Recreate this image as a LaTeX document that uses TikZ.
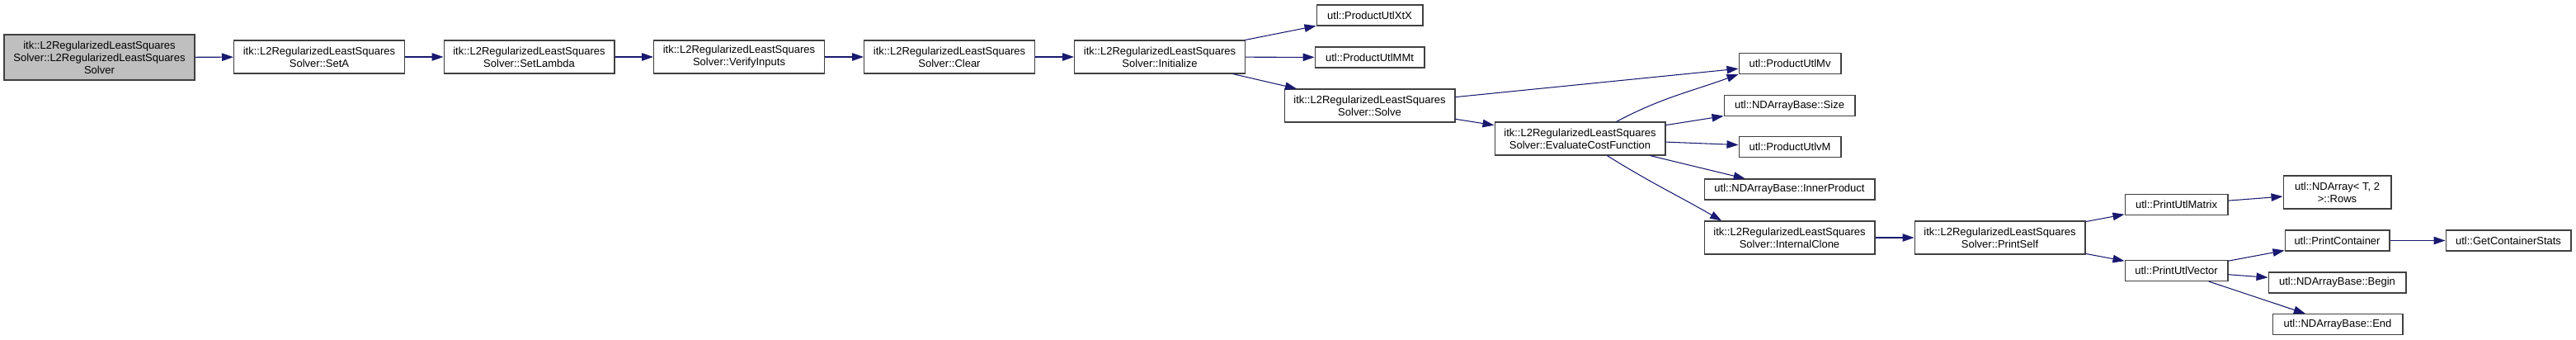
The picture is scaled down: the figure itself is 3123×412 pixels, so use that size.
\documentclass[tikz,border=0pt]{standalone}
\usepackage{fontspec}
\setmainfont{Liberation Sans}
\usepackage{xcolor}
\usepackage{tikz}
\usetikzlibrary{shapes,arrows,arrows.meta,positioning,calc,fit}
\definecolor{callblue}{HTML}{191970}
\definecolor{rootgray}{HTML}{BFBFBF}

\begin{document}
\begin{tikzpicture}[
            x=0.02cm, y=-0.02cm,
            every node/.style={font=\fontsize{7.4}{8.6}\selectfont},
            fn/.style={draw=black!75, line width=0.6pt, fill=white, align=center, inner sep=0pt, minimum width=4.14cm, minimum height=0.8cm},
            leaf/.style={fn, minimum height=0.5cm},
            call/.style={->, >={Triangle[length=0.28cm,width=0.19cm]}, draw=callblue, line width=0.6pt},
        ]
            \useasboundingbox (0,0) rectangle (3123,412);
            \node[fn, fill=rootgray, minimum width=4.62cm, minimum height=1.1cm] (ctor) at (120.5,69.5) {itk::L2RegularizedLeastSquares\\Solver::L2RegularizedLeastSquares\\Solver};
            \node[fn] (seta) at (387,69) {itk::L2RegularizedLeastSquares\\Solver::SetA};
            \node[fn] (setlambda) at (641.5,69) {itk::L2RegularizedLeastSquares\\Solver::SetLambda};
            \node[fn] (verify) at (896,69) {itk::L2RegularizedLeastSquares\\Solver::VerifyInputs};
            \node[fn] (clear) at (1151,69) {itk::L2RegularizedLeastSquares\\Solver::Clear};
            \node[fn] (init) at (1406,69) {itk::L2RegularizedLeastSquares\\Solver::Initialize};
            \node[leaf, minimum width=2.58cm] (xtx) at (1660.5,18.5) {utl::ProductUtlXtX};
            \node[leaf, minimum width=2.66cm] (mmt) at (1660.5,69.5) {utl::ProductUtlMMt};
            \node[fn] (solve) at (1660.5,128) {itk::L2RegularizedLeastSquares\\Solver::Solve};
            \node[fn] (cost) at (1915.5,168) {itk::L2RegularizedLeastSquares\\Solver::EvaluateCostFunction};
            \node[leaf, minimum width=2.48cm] (mv) at (2170,77) {utl::ProductUtlMv};
            \node[leaf, minimum width=3.18cm] (size) at (2169.5,128) {utl::NDArrayBase::Size};
            \node[leaf, minimum width=2.48cm] (vm) at (2170,178) {utl::ProductUtlvM};
            \node[leaf] (inner) at (2169.5,229.5) {utl::NDArrayBase::InnerProduct};
            \node[fn] (clone) at (2169.5,288) {itk::L2RegularizedLeastSquares\\Solver::InternalClone};
            \node[fn] (printself) at (2424.5,288) {itk::L2RegularizedLeastSquares\\Solver::PrintSelf};
            \node[leaf, minimum width=2.5cm] (pmatrix) at (2638.5,248) {utl::PrintUtlMatrix};
            \node[fn, minimum width=2.62cm] (rows) at (2833.5,233) {utl::NDArray< T, 2\\>::Rows};
            \node[leaf, minimum width=2.5cm] (pvector) at (2638.5,328) {utl::PrintUtlVector};
            \node[leaf, minimum width=2.54cm] (pcontainer) at (2833.5,291.5) {utl::PrintContainer};
            \node[leaf, minimum width=3.04cm] (stats) at (3041,291.5) {utl::GetContainerStats};
            \node[leaf, minimum width=3.34cm] (arraybegin) at (2833.5,342.5) {utl::NDArrayBase::Begin};
            \node[leaf, minimum width=3.16cm] (arrayend) at (2834,393) {utl::NDArrayBase::End};
            \draw[call] (ctor) -- (seta);
            \draw[call] (seta) -- (setlambda);
            \draw[call] (setlambda) -- (verify);
            \draw[call] (verify) -- (clear);
            \draw[call] (clear) -- (init);
            \draw[call] (init) -- (xtx);
            \draw[call] (init) -- (mmt);
            \draw[call] (init) -- (solve);
            \draw[call] (solve) -- (mv);
            \draw[call] (solve) -- (cost);
            \draw[call] (cost.25) to[out=28, in=200] (mv.south west);
            \draw[call] (cost) -- (size);
            \draw[call] (cost) -- (vm);
            \draw[call] (cost) -- (inner);
            \draw[call] (cost.-32) to[out=-32, in=150] (clone.166);
            \draw[call] (clone) -- (printself);
            \draw[call] (printself) -- (pmatrix);
            \draw[call] (printself) -- (pvector);
            \draw[call] (pmatrix) -- (rows);
            \draw[call] (pvector) -- (pcontainer);
            \draw[call] (pvector) -- (arraybegin);
            \draw[call] (pvector) -- (arrayend);
            \draw[call] (pcontainer) -- (stats);
        \end{tikzpicture}
\end{document}
